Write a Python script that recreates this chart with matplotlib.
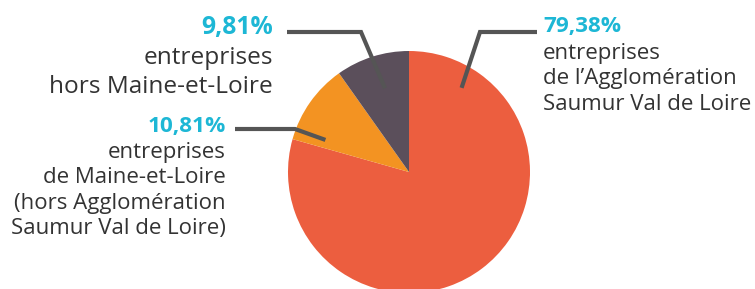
import matplotlib.pyplot as plt
import numpy as np

plt.rcParams['font.family'] = ['Open Sans', 'DejaVu Sans']

# données
parts = [79.38, 10.81, 9.81]
pct_labels = ['79,38%', '10,81%', '9,81%']
desc_labels = ["entreprises\nde l\u2019Agglomération\nSaumur Val de Loire",
               "entreprises\nde Maine-et-Loire\n(hors Agglomération\nSaumur Val de Loire)",
               "entreprises\nhors Maine-et-Loire"]
colors = ['#EC5E3F', '#F39322', '#5B4F5B']

W, H = 755, 289
fig = plt.figure(figsize=(W / 100, H / 100), dpi=100)
ax = fig.add_axes([0, 0, 1, 1])

cx, cy, r = 409, H - 172, 121
ax.pie(parts, colors=colors, startangle=90, counterclock=False,
       center=(cx, cy), radius=r, frame=True,
       wedgeprops=dict(linewidth=0))
ax.set_xlim(0, W)
ax.set_ylim(0, H)
ax.set_aspect('equal')
ax.axis('off')

# traits de rappel : angle, fraction du rayon, coude, extrémité
leaders = [
    (58, 0.82, (480, H - 32), 537),
    (159, 0.74, (295, H - 129), 235),
    (106, 0.72, (361, H - 32), 287),
]
for (ang, fr, (ex, ey), tx) in leaders:
    px = cx + fr * r * np.cos(np.radians(ang))
    py = cy + fr * r * np.sin(np.radians(ang))
    ax.plot([px, ex, tx], [py, ey, ey], color='#555555', lw=3,
            solid_capstyle='butt', solid_joinstyle='miter')

cyan = '#1DB7D5'
txt = '#333333'
# droite
ax.text(543, H - 32, pct_labels[0], color=cyan, fontsize=16.2, fontweight='bold',
        ha='left', va='baseline')
ax.text(543, H - 43, desc_labels[0], color=txt, fontsize=16, ha='left',
        va='top', linespacing=1.27)
# gauche bas
ax.text(226, H - 132, pct_labels[1], color=cyan, fontsize=16.2, fontweight='bold',
        ha='right', va='baseline')
ax.text(226, H - 142, desc_labels[1], color=txt, fontsize=16, ha='right',
        va='top', linespacing=1.27, multialignment='right')
# gauche haut
ax.text(273, H - 34, pct_labels[2], color=cyan, fontsize=17.8, fontweight='bold',
        ha='right', va='baseline')
ax.text(273, H - 46, desc_labels[2], color=txt, fontsize=17.6, ha='right',
        va='top', linespacing=1.3, multialignment='right')

fig.savefig('out.png', dpi=100)
